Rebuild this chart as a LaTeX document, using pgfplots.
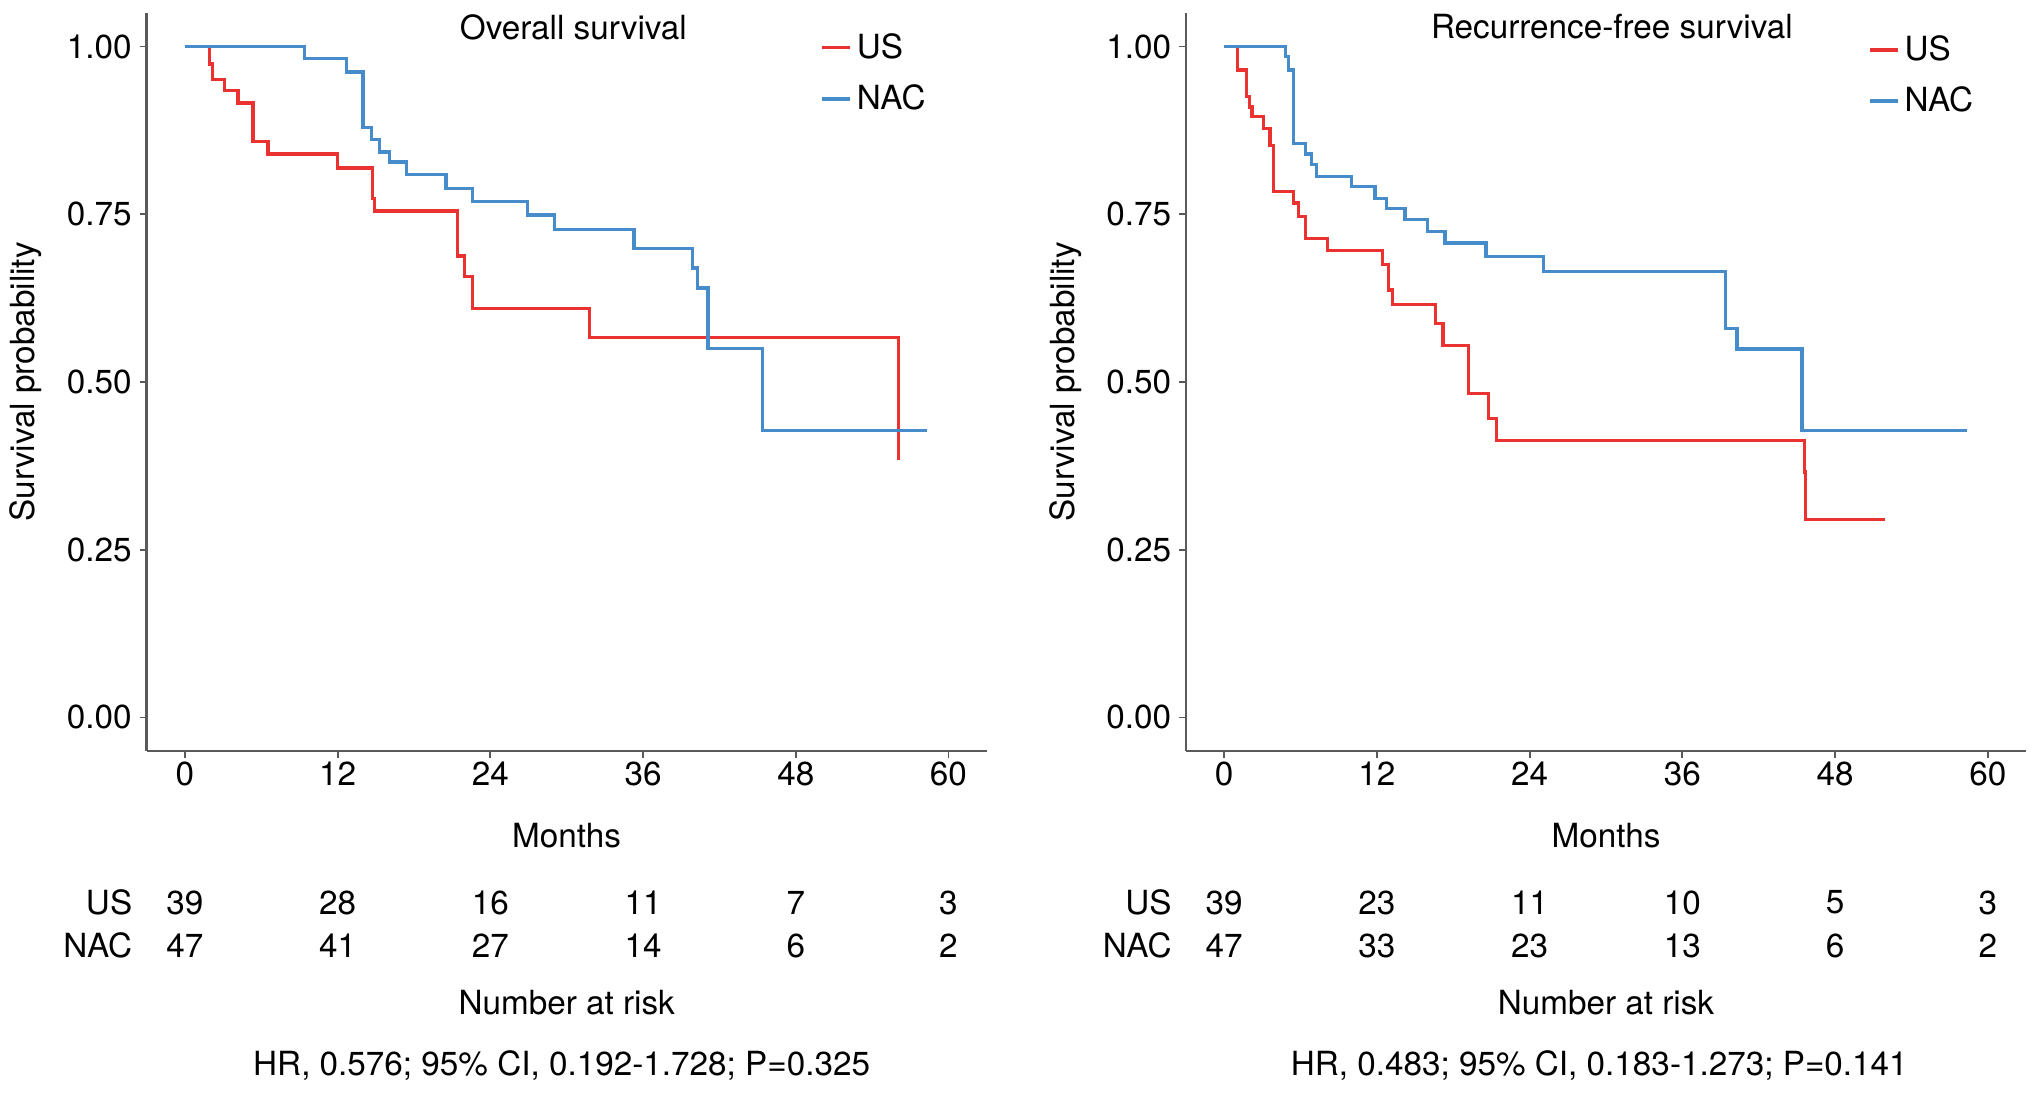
\documentclass[border=0pt]{standalone}
\usepackage{fontspec}
\setmainfont{TeX Gyre Heros}
\usepackage{pgfplots}
\pgfplotsset{compat=1.18}

\definecolor{usred}{RGB}{234,50,48}
\definecolor{nacblue}{RGB}{70,140,202}
\definecolor{axgray}{RGB}{90,90,90}
\newcommand{\fs}{\fontsize{14.2}{17}\selectfont}

\pgfplotsset{
  km/.style={
    scale only axis, width=12.6cm, height=11.07cm,
    xmin=-3, xmax=63, ymin=-0.05, ymax=1.05,
    axis lines=left,
    axis line style={-, axgray, line width=1.1pt},
    xtick={0,12,...,60}, ytick={0,0.25,0.5,0.75,1},
    y tick label style={/pgf/number format/fixed, /pgf/number format/fixed zerofill, /pgf/number format/precision=2},
    x tick label style={yshift=1.7pt},
    /pgf/number format/assume math mode=true,
    tick align=outside, major tick length=0.1cm,
    tick style={axgray, line width=0.8pt},
    font=\fs, clip=false,
    xlabel={Months},
    xlabel style={at={(axis description cs:0.5,-0.114)}, anchor=center},
    ylabel={Survival probability},
    ylabel style={at={(axis description cs:-0.1438,0.5)}, anchor=center},
    legend style={draw=none, fill=none, inner sep=0pt, row sep=0.2cm, font=\fs,
      nodes={inner sep=2pt}},
    legend cell align=left,
    legend image code/.code={\draw[#1, line width=1.4pt] (0cm,0cm) -- (0.42cm,0cm);},
  },
  kmline/.style={const plot, line width=1.4pt},
}

\begin{document}
\begin{tikzpicture}
\path[use as bounding box] (0,0) rectangle (30.48,16.395);

% ---- overall survival ----
\begin{axis}[km, at={(2.2cm,5.13cm)}, anchor=south west,
  legend style={at={(axis description cs:0.802,0.979)}, anchor=north west}]
\addplot[kmline, usred] coordinates {
  (0,1.000) (1.95,0.974) (2.16,0.951) (3.13,0.934) (4.17,0.916) (5.35,0.858)
  (6.53,0.840) (12.02,0.819) (14.77,0.774) (14.9,0.755) (21.4,0.688) (22.0,0.657)
  (22.6,0.610) (31.8,0.566) (56.1,0.384)
};
\addplot[kmline, nacblue] coordinates {
  (0,1.000) (9.4,0.982) (12.7,0.962) (14.0,0.879) (14.64,0.861) (15.29,0.843)
  (16.08,0.828) (17.39,0.809) (20.53,0.788) (22.62,0.769) (26.94,0.749) (29.03,0.727)
  (35.3,0.699) (39.9,0.670) (40.3,0.640) (41.1,0.550) (45.4,0.428) (58.3,0.428)
};
\legend{US, NAC}
\node[anchor=center] at (axis description cs:0.508,0.981) {Overall survival};
% number at risk
\node[anchor=east, inner sep=0pt] at (axis cs:-4.1,-0.276) {US};
\node[anchor=east, inner sep=0pt] at (axis cs:-4.1,-0.340) {NAC};
\node at (axis cs:0,-0.276) {39};  \node at (axis cs:0,-0.340) {47};
\node at (axis cs:12,-0.276) {28}; \node at (axis cs:12,-0.340) {41};
\node at (axis cs:24,-0.276) {16}; \node at (axis cs:24,-0.340) {27};
\node at (axis cs:36,-0.276) {11}; \node at (axis cs:36,-0.340) {14};
\node at (axis cs:48,-0.276) {7};  \node at (axis cs:48,-0.340) {6};
\node at (axis cs:60,-0.276) {3};  \node at (axis cs:60,-0.340) {2};
\node at (axis description cs:0.5,-0.3415) {Number at risk};
\node at (axis description cs:0.494,-0.426) {HR, 0.576; 95\% CI, 0.192-1.728; P=0.325};
\end{axis}

% ---- recurrence-free survival ----
\begin{axis}[km, at={(17.79cm,5.13cm)}, anchor=south west,
  legend style={at={(axis description cs:0.812,0.976)}, anchor=north west}]
\addplot[kmline, usred] coordinates {
  (0,1.000) (1.05,0.965) (1.78,0.925) (2.0,0.91) (2.18,0.896) (3.09,0.878)
  (3.6,0.853) (3.87,0.784) (5.44,0.767) (5.83,0.747) (6.36,0.714) (8.14,0.696)
  (12.45,0.675) (12.9,0.637) (13.2,0.616) (16.6,0.587) (17.2,0.554) (19.2,0.483)
  (20.75,0.446) (21.4,0.413) (45.6,0.366) (45.7,0.295) (51.9,0.295)
};
\addplot[kmline, nacblue] coordinates {
  (0,1.000) (4.79,0.985) (5.05,0.965) (5.44,0.855) (6.36,0.840) (6.88,0.824)
  (7.27,0.806) (10.02,0.791) (11.85,0.774) (12.77,0.759) (14.2,0.742) (16.0,0.724)
  (17.35,0.707) (20.57,0.687) (25.1,0.665) (39.4,0.580) (40.3,0.549) (45.4,0.428)
  (58.4,0.428)
};
\legend{US, NAC}
\node[anchor=center] at (axis description cs:0.507,0.981) {Recurrence-free survival};
\node[anchor=east, inner sep=0pt] at (axis cs:-4.1,-0.276) {US};
\node[anchor=east, inner sep=0pt] at (axis cs:-4.1,-0.340) {NAC};
\node at (axis cs:0,-0.276) {39};  \node at (axis cs:0,-0.340) {47};
\node at (axis cs:12,-0.276) {23}; \node at (axis cs:12,-0.340) {33};
\node at (axis cs:24,-0.276) {11}; \node at (axis cs:24,-0.340) {23};
\node at (axis cs:36,-0.276) {10}; \node at (axis cs:36,-0.340) {13};
\node at (axis cs:48,-0.276) {5};  \node at (axis cs:48,-0.340) {6};
\node at (axis cs:60,-0.276) {3};  \node at (axis cs:60,-0.340) {2};
\node at (axis description cs:0.5,-0.3415) {Number at risk};
\node at (axis description cs:0.492,-0.426) {HR, 0.483; 95\% CI, 0.183-1.273; P=0.141};
\end{axis}
\end{tikzpicture}
\end{document}
